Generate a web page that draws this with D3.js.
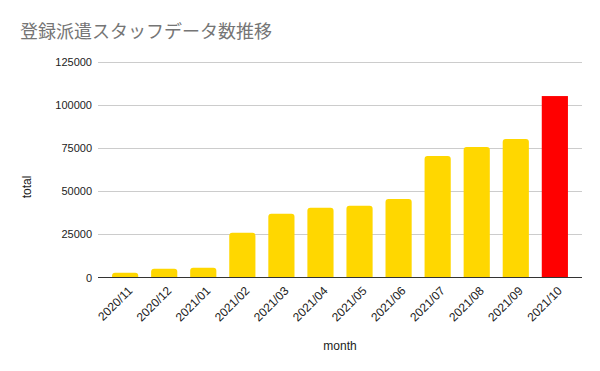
<!DOCTYPE html>
<html lang="ja">
<head>
    <meta charset="UTF-8">
    <title>登録派遣スタッフデータ数推移</title>
    <script src="https://d3js.org/d3.v7.min.js"></script>
    <style>
        body {
            margin: 0;
            background: #fff;
            font-family: Arial, 'Liberation Sans', 'Noto Sans CJK JP', sans-serif;
        }
        .grid line {
            stroke: #cccccc;
            stroke-width: 1px;
        }
        .tick text {
            font-size: 11px;
            fill: #222;
        }
        .x-axis .tick text {
            font-size: 12px;
        }
    </style>
</head>
<body>
    <div id="chart"></div>

    <script>
        // data
        const months = ['2020/11', '2020/12', '2021/01', '2021/02', '2021/03', '2021/04',
                        '2021/05', '2021/06', '2021/07', '2021/08', '2021/09', '2021/10'];
        const totals = [2800, 5000, 5600, 25900, 36900, 40400,
                        41500, 45400, 70300, 75500, 80100, 105000];
        const yTicks = [0, 25000, 50000, 75000, 100000, 125000];

        const width = 600, height = 371;
        const svg = d3.select('#chart').append('svg')
            .attr('width', width)
            .attr('height', height);

        const x = d3.scaleBand()
            .domain(months)
            .range([98, 582])
            .paddingInner(0.33)
            .paddingOuter(0.36);

        const y = d3.scaleLinear()
            .domain([0, 125000])
            .range([277.5, 61.5]);

        // title
        svg.append('text')
            .attr('x', 20)
            .attr('y', 38)
            .attr('fill', '#757575')
            .style('font-size', '18px')
            .style('font-family', "'Noto Sans CJK JP', sans-serif")
            .text('登録派遣スタッフデータ数推移');

        // gridlines
        svg.append('g')
            .attr('class', 'grid')
            .selectAll('line')
            .data(yTicks.slice(1))
            .enter().append('line')
            .attr('x1', 98)
            .attr('x2', 582)
            .attr('y1', d => Math.round(y(d)) + 0.5)
            .attr('y2', d => Math.round(y(d)) + 0.5);

        // y axis labels
        const yAxis = svg.append('g')
            .attr('transform', 'translate(98,0)')
            .call(d3.axisLeft(y).tickValues(yTicks).tickSize(0).tickPadding(6).tickFormat(d3.format('d')));
        yAxis.select('.domain').remove();

        // bars
        svg.selectAll('.bar')
            .data(months)
            .enter().append('rect')
            .attr('class', 'bar')
            .attr('x', d => x(d))
            .attr('width', x.bandwidth())
            .attr('y', (d, i) => y(totals[i]))
            .attr('height', (d, i) => y(0) - y(totals[i]) + 3)
            .attr('rx', (d, i) => i === months.length - 1 ? 0 : 3)
            .attr('fill', (d, i) => i === months.length - 1 ? '#ff0000' : '#ffd700');

        // white mask below baseline to square the bottom
        svg.append('rect')
            .attr('x', 98)
            .attr('y', y(0))
            .attr('width', 484)
            .attr('height', 4)
            .attr('fill', '#fff');

        // x axis
        const xAxis = svg.append('g')
            .attr('class', 'x-axis')
            .attr('transform', `translate(0,${y(0)})`)
            .call(d3.axisBottom(x).tickSize(0).tickSizeOuter(0).tickPadding(0));
        xAxis.select('.domain')
            .attr('stroke', '#333')
            .attr('stroke-width', 1.2)
            .attr('d', 'M98,0H582');
        xAxis.selectAll('.tick text')
            .attr('text-anchor', 'end')
            .attr('dy', 0)
            .attr('transform', 'translate(8,14) rotate(-45)');

        // axis titles
        svg.append('text')
            .attr('x', 340)
            .attr('y', 350)
            .attr('text-anchor', 'middle')
            .style('font-size', '12px')
            .attr('fill', '#222')
            .text('month');

        svg.append('text')
            .attr('transform', 'translate(31,187) rotate(-90)')
            .attr('text-anchor', 'middle')
            .style('font-size', '12px')
            .attr('fill', '#222')
            .text('total');
    </script>
</body>
</html>
